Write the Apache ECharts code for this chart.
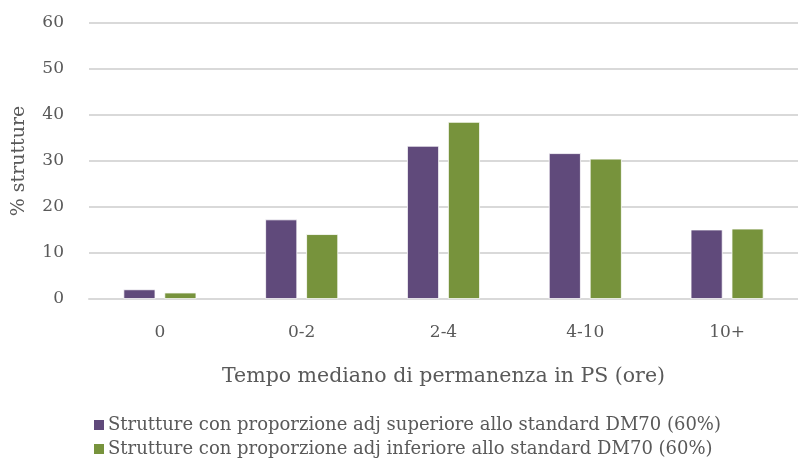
<!DOCTYPE html>
<html>
<head>
<meta charset="utf-8">
<script src="https://cdn.jsdelivr.net/npm/echarts@6/dist/echarts.min.js"></script>
<style>
  html, body { margin: 0; padding: 0; background: #fff; }
  #chart { width: 798px; height: 462px; }
</style>
</head>
<body>
<div id="chart"></div>
<script>
// Categorie: tempo mediano di permanenza in PS (ore)
const categories = ['0', '0-2', '2-4', '4-10', '10+'];
// % strutture per gruppo
const sopraStandard = [2.1, 17.3, 33.3, 31.7, 15.1];
const sottoStandard = [1.4, 14.1, 38.5, 30.5, 15.3];
const seriesNames = [
  'Strutture con proporzione adj superiore allo standard DM70 (60%)',
  'Strutture con proporzione adj inferiore allo standard DM70 (60%)'
];
const colors = ['#604A7B', '#77933C'];

const FONT = '"DejaVu Serif", "Liberation Serif", serif';
const GREY = '#595959';

// one legend block per series, stacked as two rows
function legendRow(name, top) {
  return {
    orient: 'vertical',
    left: 92,
    top: top,
    padding: 0,
    itemWidth: 12,
    itemHeight: 12,
    itemGap: 0,
    icon: 'rect',
    textStyle: { fontFamily: FONT, fontSize: 18, color: GREY, padding: [0, 0, 0, -2] },
    data: [name]
  };
}

const chart = echarts.init(document.getElementById('chart'), null, { renderer: 'canvas' });
chart.setOption({
  animation: false,
  color: colors,
  textStyle: { fontFamily: FONT },
  grid: { left: 89, right: -6, top: 23, bottom: 163, containLabel: false },
  legend: [legendRow(seriesNames[0], 416), legendRow(seriesNames[1], 440)],
  xAxis: {
    type: 'category',
    data: categories,
    name: 'Tempo mediano di permanenza in PS (ore)',
    nameLocation: 'middle',
    nameGap: 67,
    nameTextStyle: { fontFamily: FONT, fontSize: 20.5, color: GREY },
    axisLine: { lineStyle: { color: '#D9D9D9', width: 2 } },
    axisTick: { show: false },
    axisLabel: { fontFamily: FONT, fontSize: 17, color: GREY, margin: 25 }
  },
  yAxis: {
    type: 'value',
    min: 0,
    max: 60,
    interval: 10,
    name: '% strutture',
    nameLocation: 'middle',
    nameGap: 60,
    nameRotate: 90,
    nameTextStyle: { fontFamily: FONT, fontSize: 19, color: GREY },
    axisLine: { show: false },
    axisTick: { show: false },
    axisLabel: { fontFamily: FONT, fontSize: 17, color: GREY, margin: 25 },
    splitLine: { lineStyle: { color: '#D9D9D9', width: 2 } }
  },
  series: [
    {
      name: seriesNames[0],
      type: 'bar',
      data: sopraStandard,
      barWidth: 32,
      barGap: '28%',
      itemStyle: { color: colors[0], borderColor: '#ffffff', borderWidth: 0.8 }
    },
    {
      name: seriesNames[1],
      type: 'bar',
      data: sottoStandard,
      barWidth: 32,
      itemStyle: { color: colors[1], borderColor: '#ffffff', borderWidth: 0.8 }
    }
  ]
});
</script>
</body>
</html>
